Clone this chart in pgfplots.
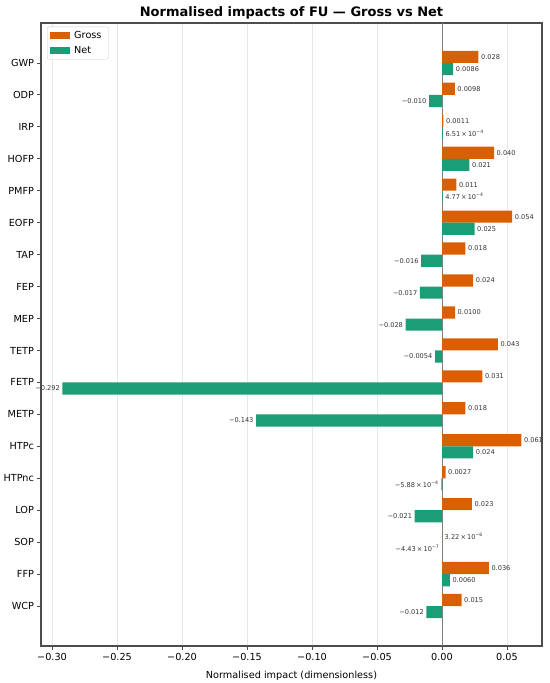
\documentclass[border=0pt]{standalone}
\usepackage{pgfplots}
\pgfplotsset{compat=1.18}
\usepackage{pgfplotstable}
\usepackage{fontspec}
\setmainfont{DejaVu Sans}
\definecolor{gross}{HTML}{D95F02}
\definecolor{net}{HTML}{1B9E77}
\definecolor{spine}{HTML}{4D4D4D}
\newcommand{\sci}[2]{#1\,×\,10\textsuperscript{#2}}

\pgfplotstableread{
y v lab
0 0.028 0.028
1 0.0098 0.0098
2 0.0011 0.0011
3 0.040 0.040
4 0.011 0.011
5 0.054 0.054
6 0.018 0.018
7 0.024 0.024
8 0.0100 0.0100
9 0.043 0.043
10 0.031 0.031
11 0.018 0.018
12 0.061 0.061
13 0.0027 0.0027
14 0.023 0.023
15 0.00000322 {\sci{3.22}{−6}}
16 0.036 0.036
17 0.015 0.015
}\grossdata

\pgfplotstableread{
y v lab
0 0.0086 0.0086
2 0.000651 {\sci{6.51}{−4}}
3 0.021 0.021
4 0.000477 {\sci{4.77}{−4}}
5 0.025 0.025
12 0.024 0.024
16 0.0060 0.0060
}\netposdata

\pgfplotstableread{
y v lab
1 -0.010 −0.010
6 -0.016 −0.016
7 -0.017 −0.017
8 -0.028 −0.028
9 -0.0054 −0.0054
10 -0.292 −0.292
11 -0.143 −0.143
13 -0.000588 {−\sci{5.88}{−4}}
14 -0.021 −0.021
15 -0.000000443 {−\sci{4.43}{−7}}
17 -0.012 −0.012
}\netnegdata

\begin{document}
\begin{tikzpicture}
\begin{axis}[
  name=ax,
  width=501pt, height=623pt, scale only axis,
  xbar,
  y dir=reverse,
  xmin=-0.3085, xmax=0.0769,
  ymin=-1.25, ymax=18.25,
  ytick={0,...,17},
  yticklabels={GWP,ODP,IRP,HOFP,PMFP,EOFP,TAP,FEP,MEP,TETP,FETP,METP,HTPc,HTPnc,LOP,SOP,FFP,WCP},
  xtick={-0.3,-0.25,-0.2,-0.15,-0.1,-0.05,0,0.05},
  xticklabels={−0.30,−0.25,−0.20,−0.15,−0.10,−0.05,0.00,0.05},
  tick align=outside, tick pos=left,
  major tick length=3.5pt,
  xmajorgrids, grid style={color=black!9, line width=0.8pt},
  axis line style={spine, line width=1.1pt},
  every tick/.style={spine, line width=0.8pt},
  tick label style={font=\fontsize{9.7}{11}\selectfont, color=black},
  xlabel={Normalised impact (dimensionless)},
  xlabel style={font=\fontsize{9.7}{11}\selectfont},
  title={Normalised impacts of FU — Gross vs Net},
  title style={font=\bfseries\fontsize{13}{15}\selectfont, yshift=-6pt},
  bar width=0.38,
  legend style={at={(axis description cs:0.012,0.994)}, anchor=north west,
    draw=black!20, fill=white, rounded corners=2pt,
    font=\fontsize{9.7}{11}\selectfont, inner xsep=3pt, inner ysep=2.5pt, row sep=2pt,
    nodes={inner xsep=4pt}},
  legend cell align=left,
  legend image code/.code={\path[#1,draw=none,sharp corners] (0pt,-3.5pt) rectangle (20pt,3.5pt);},
  nodes near coords,
  point meta=explicit symbolic,
  every node near coord/.append style={font=\fontsize{6.6}{8}\selectfont, color=black!80, inner xsep=2.5pt, inner ysep=0pt},
  extra x ticks={0}, extra x tick labels={},
  extra x tick style={xmajorgrids=true, major grid style={color=gray, line width=1pt}, major tick length=0pt},
]
\addplot[fill=gross, draw=none, bar shift=-0.19,
  every node near coord/.append style={anchor=west}] table[x=v, y=y, meta=lab] {\grossdata};
\addlegendentry{Gross}
\addplot[fill=net, draw=none, bar shift=0.19,
  every node near coord/.append style={anchor=west}] table[x=v, y=y, meta=lab] {\netposdata};
\addlegendentry{Net}
\addplot[fill=net, draw=none, bar shift=0.19, forget plot,
  every node near coord/.append style={anchor=east}] table[x=v, y=y, meta=lab] {\netnegdata};
\end{axis}
\pgfresetboundingbox
\path ([xshift=-41pt,yshift=-37pt]ax.south west) rectangle ([xshift=8pt,yshift=23pt]ax.north east);
\end{tikzpicture}
\end{document}
